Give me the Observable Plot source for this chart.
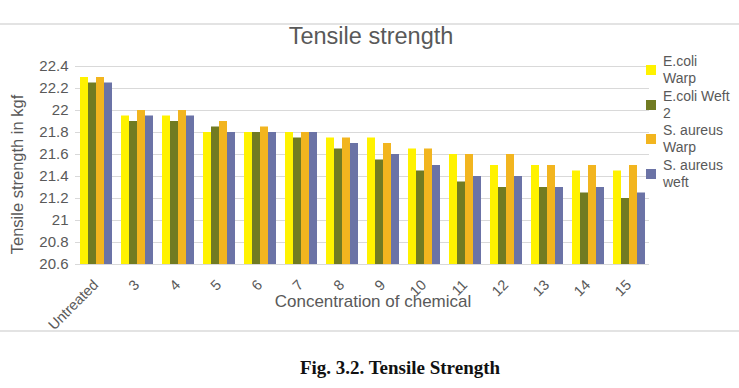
<!DOCTYPE html>
<html>
<head>
<meta charset="utf-8">
<script src="https://cdn.jsdelivr.net/npm/d3@7"></script>
<script src="https://cdn.jsdelivr.net/npm/@observablehq/plot@0.6"></script>
<style>
  html, body { margin: 0; padding: 0; background: #fff; width: 739px; height: 388px; overflow: hidden; }
  body { position: relative; font-family: "Liberation Sans", Arial, sans-serif; color: #595959; }
  #frame { position: absolute; left: 0; top: 23px; width: 739px; height: 305px; border-top: 2px solid #e3e3e3; border-bottom: 2px solid #e3e3e3; }
  #title { position: absolute; left: 0; width: 742px; top: 25px; text-align: center; font-size: 23.5px; line-height: 23.5px; color: #595959; }
  #chart { position: absolute; left: 0; top: 0; }
  #chart svg g[aria-label="fx-axis tick label"] text, #chart svg g[aria-label="fx-axis"] text { font-size: 14.5px; }
  #xlabel { position: absolute; left: 0; width: 746px; top: 293px; text-align: center; font-size: 17px; line-height: 17px; color: #595959; }
  #ylabel { position: absolute; left: -83px; width: 200px; top: 166px; height: 17px; text-align: center; font-size: 16.5px; line-height: 17px; color: #595959; transform: rotate(-90deg); transform-origin: 100px 8.5px; white-space: nowrap; }
  #legend { position: absolute; left: 646px; top: 53px; font-size: 14px; line-height: 17.3px; color: #595959; }
  .item { position: relative; height: 34.6px; }
  .sw { position: absolute; left: 0; top: 12px; width: 10px; height: 10px; }
  .lab { position: absolute; left: 17px; top: 0; white-space: pre; }
  #caption { position: absolute; left: 0; width: 800px; top: 358px; text-align: center; font-family: "Liberation Serif", "Times New Roman", serif; font-weight: bold; font-size: 19px; line-height: 19px; color: #111; }
</style>
</head>
<body>
<div id="frame"></div>
<div id="chart"></div>
<div id="title">Tensile strength</div>
<div id="ylabel">Tensile strength in kgf</div>
<div id="xlabel">Concentration of chemical</div>
<div id="legend"></div>
<div id="caption">Fig. 3.2. Tensile Strength</div>
<script>
const categories = ["Untreated", "3", "4", "5", "6", "7", "8", "9", "10", "11", "12", "13", "14", "15"];
const seriesNames = ["E.coli Warp", "E.coli Weft 2", "S. aureus Warp", "S. aureus weft"];
const legendLabels = ["E.coli\nWarp", "E.coli Weft\n2", "S. aureus\nWarp", "S. aureus\nweft"];
const colors = ["#FFF200", "#717B22", "#F2B51F", "#6B73A6"];
const ecoliWarp    = [22.30, 21.95, 21.95, 21.80, 21.80, 21.80, 21.75, 21.75, 21.65, 21.60, 21.50, 21.50, 21.45, 21.45];
const ecoliWeft2   = [22.25, 21.90, 21.90, 21.85, 21.80, 21.75, 21.65, 21.55, 21.45, 21.35, 21.30, 21.30, 21.25, 21.20];
const aureusWarp   = [22.30, 22.00, 22.00, 21.90, 21.85, 21.80, 21.75, 21.70, 21.65, 21.60, 21.60, 21.50, 21.50, 21.50];
const aureusWeft   = [22.25, 21.95, 21.95, 21.80, 21.80, 21.80, 21.70, 21.60, 21.50, 21.40, 21.40, 21.30, 21.30, 21.25];
const yTicks = [20.6, 20.8, 21, 21.2, 21.4, 21.6, 21.8, 22, 22.2, 22.4];

const seriesValues = [ecoliWarp, ecoliWeft2, aureusWarp, aureusWeft];
const rows = [];
categories.forEach((c, i) => {
  seriesNames.forEach((s, j) => rows.push({cat: c, series: s, value: seriesValues[j][i]}));
});
const yMin = yTicks[0], yMax = yTicks[yTicks.length - 1];

const chart = Plot.plot({
  width: 650,
  height: 335,
  marginLeft: 73,
  marginRight: 0,
  marginTop: 66,
  marginBottom: 71,
  style: {fontFamily: "'Liberation Sans', Arial, sans-serif", fontSize: "15px", color: "#595959", background: "transparent"},
  facet: {data: rows, x: "cat", label: null},
  fx: {domain: categories, padding: 0, tickRotate: -45, tickSize: 0, tickPadding: 18, label: null},
  x: {domain: seriesNames, paddingInner: 0, paddingOuter: 0.5, axis: null},
  y: {domain: [yMin, yMax], ticks: yTicks, tickSize: 0, tickPadding: 7,
      tickFormat: d => String(d), label: null},
  color: {domain: seriesNames, range: colors},
  marks: [
    Plot.ruleY(yTicks, {stroke: "#d9d9d9", strokeWidth: 1}),
    Plot.barY(rows, {x: "series", y1: yMin, y2: "value", fill: "series"})
  ]
});
document.getElementById("chart").appendChild(chart);

const legend = document.getElementById("legend");
seriesNames.forEach((s, i) => {
  const item = document.createElement("div");
  item.className = "item";
  const sw = document.createElement("div");
  sw.className = "sw";
  sw.style.background = colors[i];
  const lab = document.createElement("div");
  lab.className = "lab";
  lab.textContent = legendLabels[i];
  item.appendChild(sw);
  item.appendChild(lab);
  legend.appendChild(item);
});
</script>
</body>
</html>
